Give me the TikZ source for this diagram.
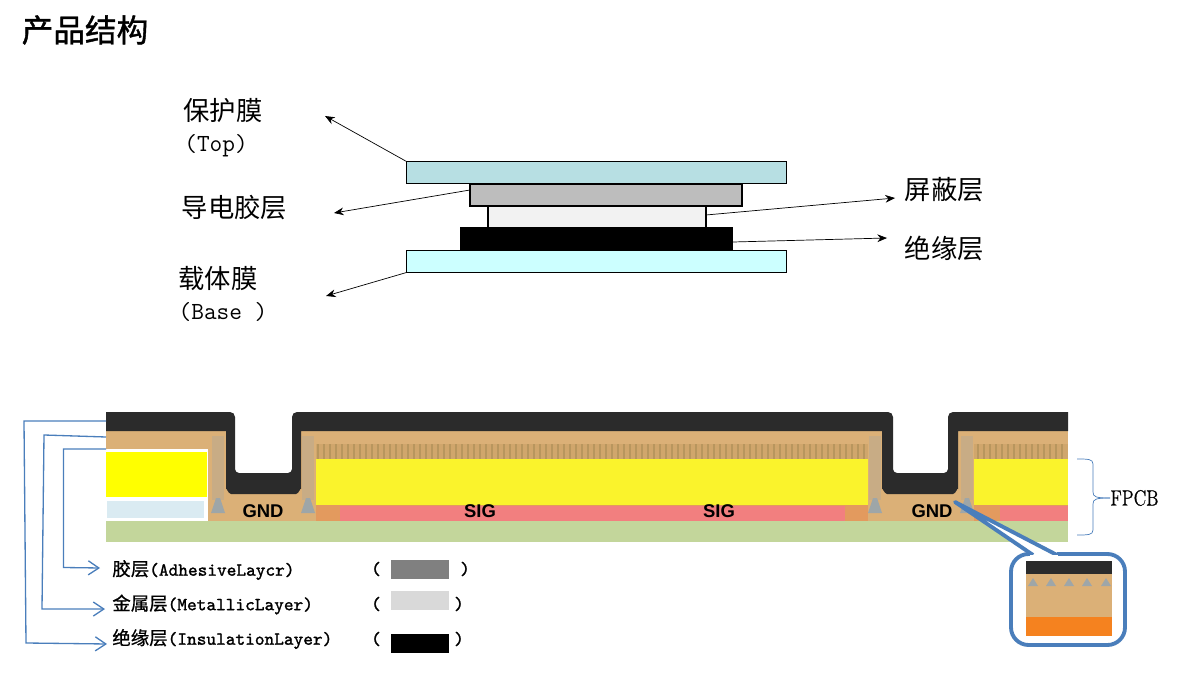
\documentclass[tikz,border=0pt]{standalone}
\usepackage{fontspec}
\newfontfamily\cjk{Noto Sans CJK SC}
\newfontfamily\cjkmid[FakeBold=0.7]{Noto Sans CJK SC}
\newfontfamily\cjkhead[FakeBold=1.2]{Noto Sans CJK SC}
\newfontfamily\tagmono[FakeBold=1.4]{Latin Modern Mono}
\newfontfamily\bracefont[FakeBold=0.6]{Latin Modern Roman}
\setsansfont{Liberation Sans}
\usetikzlibrary{arrows.meta}
\definecolor{topfilm}{HTML}{B7DFE3}
\definecolor{basefilm}{HTML}{CCFFFF}
\definecolor{gluefill}{HTML}{BDBDBD}
\definecolor{shieldfill}{HTML}{F2F2F2}
\definecolor{tan}{HTML}{DBB077}
\definecolor{combband}{HTML}{D0A66C}
\definecolor{combtan}{HTML}{B8965E}
\definecolor{blackish}{HTML}{2B2B2B}
\definecolor{fpcbgreen}{HTML}{C3D69B}
\definecolor{padorange}{HTML}{E39A5E}
\definecolor{padpink}{HTML}{F27F7F}
\definecolor{coreyellow}{RGB}{250,243,44}
\definecolor{pureyellow}{RGB}{255,255,0}
\definecolor{paleblue}{HTML}{DAEBF2}
\definecolor{viagray}{HTML}{9EA6A8}
\definecolor{insetorange}{HTML}{F5821F}
\definecolor{leaderblue}{HTML}{4A7EBB}
\tikzset{
	layer/.style={draw=black,thick,minimum height=22*0.02cm,inner sep=0pt,outer sep=0pt},
	swatch/.style={inner sep=0pt,minimum width=58*0.02cm,minimum height=19*0.02cm},
	bigcjk/.style={font=\cjk\fontsize{15}{17}\selectfont,inner sep=0pt},
	bigtt/.style={font=\ttfamily\fontsize{14}{16}\selectfont,inner sep=0pt},
	smalltag/.style={font=\tagmono\fontsize{10.5}{12}\selectfont,anchor=west,inner sep=0pt},
	padtag/.style={font=\sffamily\bfseries\fontsize{10.5}{12}\selectfont,inner sep=0pt},
	leader/.style={draw=leaderblue,line width=0.75pt,-{Straight Barb[length=6pt,width=8pt]}},
	pointer/.style={-{Stealth[length=5.5pt,width=4.4pt]},thin}
}
\begin{document}
\begin{tikzpicture}[x=0.02cm,y=-0.02cm]
	\useasboundingbox (0,0) rectangle (1194,682);
	\node[font=\cjkhead\fontsize{18}{20}\selectfont,inner sep=0pt] (title) at (85,30) {产品结构};

	% stack of films
	\node[layer,fill=topfilm,minimum width=380*0.02cm] (top) at (596.5,172.5) {};
	\node[layer,fill=gluefill,minimum width=272*0.02cm] (glue) at (606,195) {};
	\node[layer,fill=shieldfill,minimum width=218*0.02cm] (shield) at (597,217) {};
	\node[layer,fill=black,minimum width=272*0.02cm] (insul) at (596.5,239) {};
	\node[layer,fill=basefilm,minimum width=380*0.02cm] (base) at (596.5,261.5) {};

	\node[bigcjk] (ltop) at (223,111) {保护膜};
	\node[bigtt] (ltopen) at (216,145.5) {(Top)};
	\node[bigcjk] (lglue) at (234.5,208) {导电胶层};
	\node[bigcjk] (lbase) at (218,278) {载体膜};
	\node[bigtt] (lbaseen) at (223,312) {(Base )};
	\node[bigcjk] (lshield) at (944.5,190) {屏蔽层};
	\node[bigcjk] (linsul) at (944.5,248) {绝缘层};

	\coordinate (ptop) at (325,116);
	\coordinate (pglue) at (334,213);
	\coordinate (pbase) at (326,296);
	\coordinate (pshield) at (895,198);
	\coordinate (pinsul) at (887,238);
	\coordinate (sglue) at (470,190);
	\coordinate (sshield) at (706,215);
	\coordinate (sinsul) at (733,242);
	\draw[pointer] (top.north west) -- (ptop);
	\draw[pointer] (sglue) -- (pglue);
	\draw[pointer] (base.south west) -- (pbase);
	\draw[pointer] (sshield) -- (pshield);
	\draw[pointer] (sinsul) -- (pinsul);

	% FPCB section
	\fill[tan] (106,430) rectangle (1068,521);
	\fill[padorange] (316,505) rectangle (868,521);
	\fill[padorange] (974,505) rectangle (1068,521);
	\fill[padpink] (340,506) rectangle (845,521);
	\fill[padpink] (1000,506) rectangle (1068,521);
	\fill[coreyellow] (316,459) rectangle (868,505);
	\fill[coreyellow] (974,459) rectangle (1068,505);
	\fill[combband] (316,444) rectangle (868,459);
	\fill[combband] (974,444) rectangle (1068,459);
	\foreach \x in {318,324,...,866} {
		\draw[combtan,line width=1.2pt] (\x,444) -- (\x,459);
	}
	\foreach \x in {978,984,...,1066} {
		\draw[combtan,line width=1.2pt] (\x,444) -- (\x,459);
	}
	\foreach \x in {218,308,875,967} {
		\fill[viagray,opacity=0.3] (\x-6,436) rectangle (\x+6,500);
		\fill[viagray] (\x-7,513) -- (\x-2,498) -- (\x+2,498) -- (\x+7,513) -- cycle;
	}
	\fill[white] (234,425) rectangle (292,476);
	\fill[white] (893,425) rectangle (948,476);
	\fill[blackish] (106,412) -- (230,412) to[out=0,in=90] (235,417) -- (235,469) to[out=-90,in=180] (239,473)
		-- (288,473) to[out=0,in=-90] (292,469) -- (292,417) to[out=90,in=180] (297,412)
		-- (888,412) to[out=0,in=90] (893,417) -- (893,469) to[out=-90,in=180] (897,473)
		-- (944,473) to[out=0,in=-90] (948,469) -- (948,417) to[out=90,in=180] (953,412)
		-- (1068,412) -- (1068,431) -- (958,431) -- (958,489) to[out=90,in=0] (953,494) -- (887,494)
		to[out=180,in=90] (882,489) -- (882,431) -- (301,431) -- (301,489) to[out=90,in=0] (296,494) -- (231,494)
		to[out=180,in=90] (226,489) -- (226,431) -- (106,431) -- cycle;
	\fill[fpcbgreen] (106,521) rectangle (1068,542);
	\fill[white] (105,449) rectangle (208,521);
	\fill[pureyellow] (106,452) rectangle (207,497);
	\fill[paleblue] (107,501) rectangle (204,518);

	\node[padtag] (gndl) at (263,511) {GND};
	\node[padtag] (sigl) at (480,511) {SIG};
	\node[padtag] (sigr) at (719,511) {SIG};
	\node[padtag] (gndr) at (932,511) {GND};

	% callout
	\filldraw[draw=leaderblue,fill=white,line width=2.2pt,line join=round,rounded corners=10pt]
		(1031,554) -- (1011,554) -- (1011,645) -- (1125,645) -- (1125,554) -- (1057,554);
	\filldraw[draw=leaderblue,fill=white,line width=2.2pt,line join=round] (1033,555) -- (955,502) -- (1057,555);
	\fill[white] (1030,555) rectangle (1058,558);
	\fill[tan] (1026,574) rectangle (1112,617);
	\fill[blackish] (1026,561) rectangle (1112,574);
	\fill[insetorange] (1026,617) rectangle (1112,636);
	\foreach \x in {1033,1051,1069,1087,1106} {
		\fill[viagray] (\x-5,586) -- (\x,578) -- (\x+5,586) -- cycle;
	}

	% brace
	\node[font=\bracefont\fontsize{12.5}{14}\selectfont,inner sep=0pt] (fpcb) at (1134.5,498) {\scalebox{0.81}[1]{FPCB}};
	\draw[leaderblue,thin] (1077,459) .. controls (1088,459) and (1093,459) .. (1093,464) -- (1093,492)
		.. controls (1093,497) and (1096,498) .. (fpcb.west);
	\draw[leaderblue,thin] (1077,535) .. controls (1088,535) and (1093,535) .. (1093,530) -- (1093,504)
		.. controls (1093,499) and (1096,498) .. (fpcb.west);

	% legend
	\node[smalltag] (tagglue) at (112,570) {{\cjkmid 胶层}(AdhesiveLaycr)};
	\node[smalltag] (tagmetal) at (112,604.5) {{\cjkmid 金属层}(MetallicLayer)};
	\node[smalltag] (taginsul) at (112,639) {{\cjkmid 绝缘层}(InsulationLayer)};
	\node[swatch,fill=gray] (swglue) at (420,569.5) {};
	\node[swatch,fill=black!15] (swmetal) at (420,600.5) {};
	\node[swatch,fill=black] (swinsul) at (420,643.5) {};
	\foreach \y/\xr [count=\i] in {569/465,604/459,639/459} {
		\node[smalltag,anchor=center] (po\i) at (376,\y) {(};
		\node[smalltag,anchor=center] (pc\i) at (\xr,\y) {)};
	}

	\coordinate (wa) at (106,421);
	\coordinate (wb) at (106,437);
	\coordinate (wc) at (106,449);
	\draw[leader] (wa) -- (24,421) -- (26,643) -- (107,644);
	\draw[leader] (wb) -- (44,435) -- (42,609) -- (105,609);
	\draw[leader] (wc) -- (63.5,449) -- (63.5,567.5) -- (100,568);
\end{tikzpicture}
\end{document}
